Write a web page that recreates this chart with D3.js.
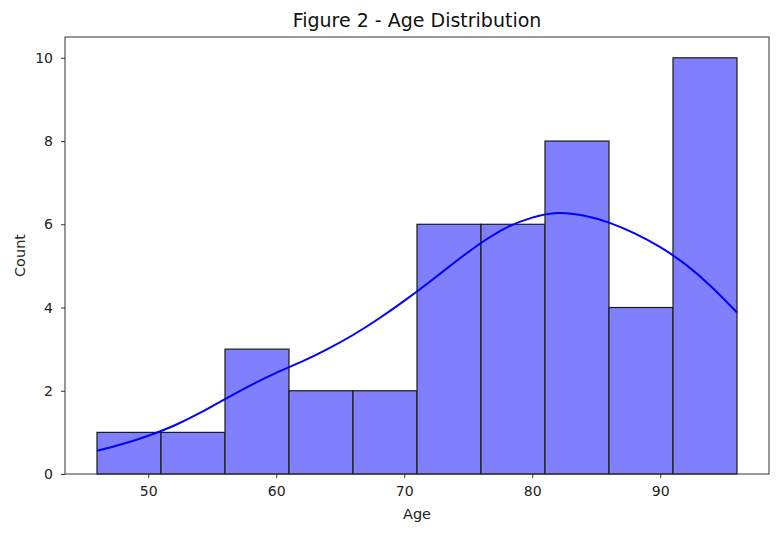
<!DOCTYPE html>
<html>
<head>
<meta charset="utf-8">
<script src="https://cdn.jsdelivr.net/npm/d3@7"></script>
<style>
  html, body { margin: 0; padding: 0; background: #fff; }
  svg { display: block; font-family: "DejaVu Sans", sans-serif; }
</style>
</head>
<body>
<svg id="chart" width="779" height="534"></svg>
<script>
// ---- data ----
const binEdges = [46, 51, 56, 61, 66, 71, 76, 81, 86, 91, 96];
const binCounts = [1, 1, 3, 2, 2, 6, 6, 8, 4, 10];
const kdeX = [46, 48, 50, 52, 54, 56, 58, 60, 62, 64, 66, 68, 70, 72, 74, 76, 78, 80, 82, 84, 86, 88, 90, 92, 94, 96];
const kdeY = [0.56, 0.72, 0.92, 1.16, 1.46, 1.80, 2.13, 2.43, 2.70, 3.00, 3.34, 3.73, 4.16, 4.62, 5.10, 5.55, 5.92, 6.16, 6.27, 6.21, 6.04, 5.78, 5.45, 5.03, 4.50, 3.88];
const xTicks = [50, 60, 70, 80, 90];
const yTicks = [0, 2, 4, 6, 8, 10];
const title = "Figure 2 - Age Distribution";
const xLabel = "Age";
const yLabel = "Count";

// ---- layout ----
const svg = d3.select("#chart");
const mLeft = 65, mRight = 769, mTop = 37, mBottom = 474;

const x = d3.scaleLinear().domain([43.5, 98.5]).range([mLeft, mRight]);
const y = d3.scaleLinear().domain([0, 10.5]).range([mBottom, mTop]);

const bins = binCounts.map((c, i) => ({ x0: binEdges[i], x1: binEdges[i + 1], c }));

// bars
svg.append("g").selectAll("rect").data(bins).join("rect")
  .attr("x", d => x(d.x0))
  .attr("y", d => y(d.c))
  .attr("width", d => x(d.x1) - x(d.x0))
  .attr("height", d => y(0) - y(d.c))
  .attr("fill", "#8080ff")
  .attr("stroke", "#1a1a1a")
  .attr("stroke-width", 1.2);

// kde line
const kde = kdeX.map((v, i) => [v, kdeY[i]]);
svg.append("path")
  .datum(kde)
  .attr("fill", "none")
  .attr("stroke", "#0000ff")
  .attr("stroke-width", 2)
  .attr("d", d3.line().x(d => x(d[0])).y(d => y(d[1])).curve(d3.curveNatural));

// axes
const xAxis = svg.append("g").attr("transform", `translate(0,${mBottom})`)
  .call(d3.axisBottom(x).tickValues(xTicks).tickSize(4).tickPadding(8).tickSizeOuter(0));
const yAxis = svg.append("g").attr("transform", `translate(${mLeft},0)`)
  .call(d3.axisLeft(y).tickValues(yTicks).tickSize(4).tickPadding(8).tickSizeOuter(0));
[xAxis, yAxis].forEach(a => {
  a.select(".domain").remove();
  a.selectAll("line").attr("stroke", "#333");
  a.selectAll("text").attr("font-size", 14).attr("fill", "#222").attr("font-family", "DejaVu Sans, sans-serif");
});

// frame
svg.append("rect")
  .attr("x", mLeft).attr("y", mTop)
  .attr("width", mRight - mLeft).attr("height", mBottom - mTop)
  .attr("fill", "none").attr("stroke", "#333").attr("stroke-width", 1);

// labels
svg.append("text").attr("x", (mLeft + mRight) / 2).attr("y", 27)
  .attr("text-anchor", "middle").attr("font-size", 19).attr("fill", "#111")
  .text(title);
svg.append("text").attr("x", (mLeft + mRight) / 2).attr("y", 519)
  .attr("text-anchor", "middle").attr("font-size", 14.5).attr("fill", "#222")
  .text(xLabel);
svg.append("text")
  .attr("transform", `translate(25,${(mTop + mBottom) / 2}) rotate(-90)`)
  .attr("text-anchor", "middle").attr("font-size", 14.5).attr("fill", "#222")
  .text(yLabel);
</script>
</body>
</html>
